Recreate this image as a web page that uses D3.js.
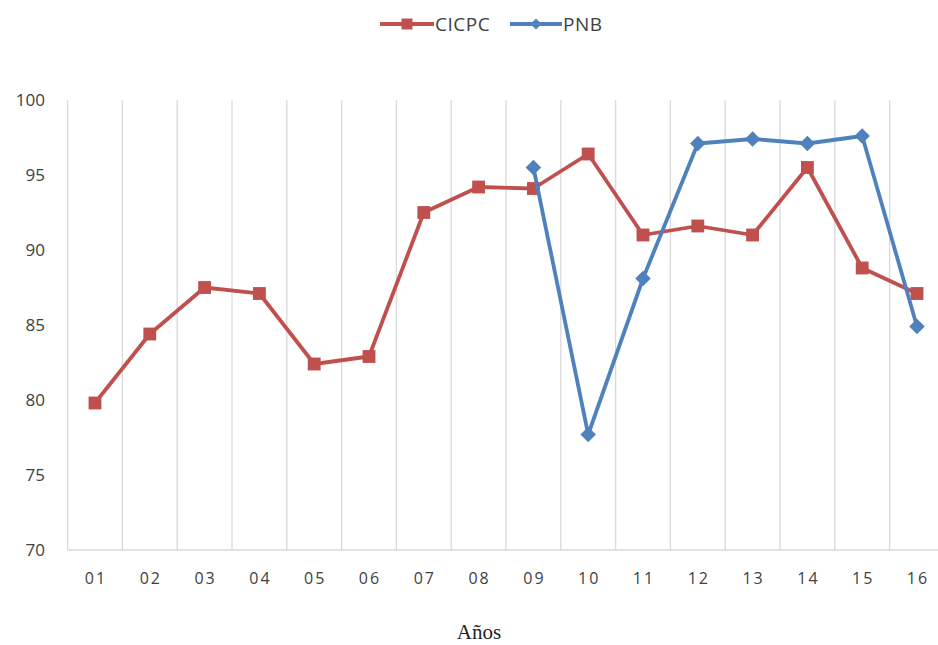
<!DOCTYPE html>
<html>
<head>
<meta charset="utf-8">
<script src="https://cdn.jsdelivr.net/npm/d3@7"></script>
<style>
  body { margin: 0; background: #fff; }
  svg { display: block; }
</style>
</head>
<body>
<svg id="chart"></svg>
<script>
// data
var years = ["01","02","03","04","05","06","07","08","09","10","11","12","13","14","15","16"];
var cicpc = [79.8, 84.4, 87.5, 87.1, 82.4, 82.9, 92.5, 94.2, 94.1, 96.4, 91.0, 91.6, 91.0, 95.5, 88.8, 87.1];
var pnb   = [null, null, null, null, null, null, null, null, 95.5, 77.7, 88.1, 97.1, 97.4, 97.1, 97.6, 84.9];
var yTicks = [70, 75, 80, 85, 90, 95, 100];

var width = 938, height = 645;
var red = "#c0504d", blue = "#4f81bd";

var svg = d3.select("#chart")
            .attr("width", width)
            .attr("height", height);

var x = d3.scaleBand()
          .domain(years)
          .range([67.6, 944.4])
          .padding(0);

var y = d3.scaleLinear()
          .domain([70, 100])
          .range([550, 100]);

// diamond as a square turned 45deg (excel style)
var diamond = {
  draw: function(ctx, size){
    var r = Math.sqrt(size) / 2 * Math.SQRT2;
    ctx.moveTo(0, -r);
    ctx.lineTo(r, 0);
    ctx.lineTo(0, r);
    ctx.lineTo(-r, 0);
    ctx.closePath();
  }
};

//////// vertical gridlines (band borders)
var borders = years.map(function(d){ return x(d); });
borders.push(x(years[years.length-1]) + x.bandwidth());

svg.append("g")
   .selectAll("line")
   .data(borders)
   .enter()
   .append("line")
   .attr("x1", function(d){ return d; })
   .attr("x2", function(d){ return d; })
   .attr("y1", y(100))
   .attr("y2", y(70))
   .attr("stroke", "#d9d9d9")
   .attr("stroke-width", 1.3);

// bottom axis line
svg.append("line")
   .attr("x1", x.range()[0])
   .attr("x2", x.range()[1])
   .attr("y1", y(70))
   .attr("y2", y(70))
   .attr("stroke", "#d9d9d9")
   .attr("stroke-width", 1.3);

//////// y labels
svg.append("g")
   .selectAll("text")
   .data(yTicks)
   .enter()
   .append("text")
   .attr("x", 45)
   .attr("y", function(d){ return y(d) + 6; })
   .attr("text-anchor", "end")
   .attr("font-family", "Open Sans, sans-serif")
   .attr("font-size", 17)
   .attr("fill", "#404040")
   .text(function(d){ return d; });

//////// x labels
svg.append("g")
   .selectAll("text")
   .data(years)
   .enter()
   .append("text")
   .attr("x", function(d){ return x(d) + x.bandwidth()/2 + 1; })
   .attr("y", 584)
   .attr("text-anchor", "middle")
   .attr("font-family", "Open Sans, sans-serif")
   .attr("font-size", 16)
   .attr("letter-spacing", 2)
   .attr("fill", "#404040")
   .text(function(d){ return d; });

// axis title
svg.append("text")
   .attr("x", 479)
   .attr("y", 639)
   .attr("text-anchor", "middle")
   .attr("font-family", "Liberation Serif, serif")
   .attr("font-size", 21)
   .attr("fill", "#222")
   .text("Años");

//////// lines
var line = d3.line()
             .defined(function(d){ return d.v != null; })
             .x(function(d){ return x(d.year) + x.bandwidth()/2; })
             .y(function(d){ return y(d.v); });

function seriesData(vals){
  return years.map(function(yr, i){ return {year: yr, v: vals[i]}; });
}

var series = [
  {name: "CICPC", values: seriesData(cicpc), color: red, symbol: d3.symbolSquare, size: 165},
  {name: "PNB", values: seriesData(pnb), color: blue, symbol: diamond, size: 120}
];

series.forEach(function(s){
  svg.append("path")
     .datum(s.values)
     .attr("d", line)
     .attr("fill", "none")
     .attr("stroke", s.color)
     .attr("stroke-width", 3.8)
     .attr("stroke-linejoin", "round");

  svg.append("g")
     .selectAll("path")
     .data(s.values.filter(function(d){ return d.v != null; }))
     .enter()
     .append("path")
     .attr("d", d3.symbol().type(s.symbol).size(s.size))
     .attr("transform", function(d){
       return "translate(" + (x(d.year) + x.bandwidth()/2) + "," + y(d.v) + ")";
     })
     .attr("fill", s.color);
});

//////// legend
var legend = svg.append("g").attr("id", "legend");
var legendItems = [
  {name: "CICPC", color: red, symbol: d3.symbolSquare, size: 120, x0: 380, x1: 434, tx: 435},
  {name: "PNB", color: blue, symbol: diamond, size: 60, x0: 510, x1: 562, tx: 563}
];
legendItems.forEach(function(l){
  legend.append("line")
        .attr("x1", l.x0).attr("x2", l.x1)
        .attr("y1", 24).attr("y2", 24)
        .attr("stroke", l.color)
        .attr("stroke-width", 3.8);
  legend.append("path")
        .attr("d", d3.symbol().type(l.symbol).size(l.size))
        .attr("transform", "translate(" + ((l.x0 + l.x1)/2) + ",24)")
        .attr("fill", l.color);
  legend.append("text")
        .attr("x", l.tx)
        .attr("y", 31)
        .attr("font-family", "Open Sans, sans-serif")
        .attr("font-size", 19)
        .attr("letter-spacing", 0.5)
        .attr("fill", "#404040")
        .text(l.name);
});
</script>
</body>
</html>
